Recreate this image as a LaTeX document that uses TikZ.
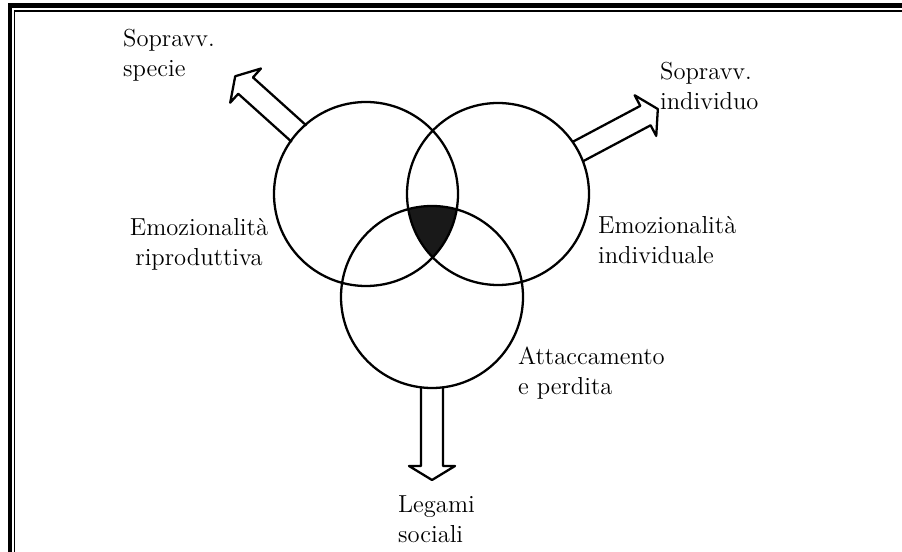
\documentclass[tikz,border=0pt]{standalone}
\begin{document}
\begin{tikzpicture}[x=0.02cm, y=0.02cm, line width=1.3pt,
		lbl/.style={inner sep=0pt, font=\fontsize{14}{17}\selectfont}]
	\clip (0,0) rectangle (902,551);
	% cornice
	\draw[line width=2.3pt] (10,-10) -- (10,545.5) -- (912,545.5);
	\draw[line width=1.1pt] (14.5,-10) -- (14.5,540) -- (912,540);
	\coordinate (L) at (366,357);
	\coordinate (R) at (498,357);
	\coordinate (B) at (432,254);
	% parte comune
	\begin{scope}
		\clip (L) circle (92);
		\clip (R) circle (91);
		\fill[black!90] (B) circle (91);
	\end{scope}
	\draw (L) circle (92) (R) circle (91) (B) circle (91);
	% frecce
	\foreach \c/\a/\t in {L/138/176, R/28/181, B/270/183}
		\draw[shift={(\c)}, rotate=\a, line join=round] (90,-11) -- (\t-14,-11) -- (\t-14,-23) -- (\t,0) -- (\t-14,23) -- (\t-14,11) -- (90,11);
	\node[lbl, anchor=west, align=left] (specie) at (122,496) {Sopravv.\\specie};
	\node[lbl, anchor=west, align=left] (indiv) at (659,465) {Sopravv.\\individuo};
	\node[lbl, align=center] (ripr) at (199,307) {Emozionalità\\riproduttiva};
	\node[lbl, anchor=west, align=left] (emind) at (597,311) {Emozionalità\\individuale};
	\node[lbl, anchor=west, align=left] (attacc) at (517,178) {Attaccamento\\e perdita};
	\node[lbl, anchor=west, align=left] (legami) at (397,32) {Legami\\sociali};
\end{tikzpicture}
\end{document}
